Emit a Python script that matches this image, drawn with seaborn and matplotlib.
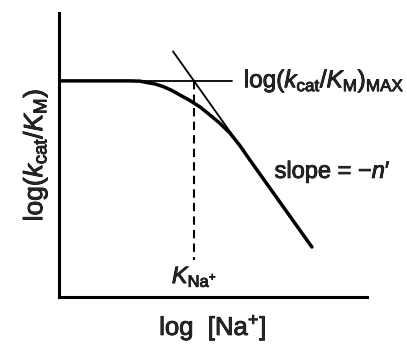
import matplotlib
matplotlib.use("Agg")
import matplotlib.pyplot as plt
import matplotlib.patheffects as pe
import seaborn as sns
import pandas as pd

# Curve (schematic units, 0-10 on both axes)
curve_x = [0.0, 2.31, 2.63, 2.86, 3.12, 3.38, 3.67, 3.93, 4.25, 4.58, 4.90, 5.23, 5.55, 5.88, 6.20, 8.21]
curve_y = [7.61, 7.61, 7.60, 7.55, 7.50, 7.41, 7.27, 7.11, 6.92, 6.69, 6.41, 6.11, 5.77, 5.32, 4.82, 1.76]

# Plateau line log(kcat/KM)MAX
plateau_x = [0.0, 5.62]
plateau_y = [7.61, 7.61]

# Limiting slope (tangent) line
tangent_x = [3.70, 8.21]
tangent_y = [8.65, 1.76]

# K_Na+ marker (dashed)
k_x = [4.38, 4.38]
k_y = [7.61, 1.30]

sns.set_style("white")
plt.rcParams['font.family'] = ['Liberation Sans', 'DejaVu Sans']
plt.rcParams['mathtext.fontset'] = 'custom'
plt.rcParams['mathtext.rm'] = 'Liberation Sans'
plt.rcParams['mathtext.it'] = 'Liberation Sans:italic'
plt.rcParams['mathtext.bf'] = 'Liberation Sans:bold'

fig = plt.figure(figsize=(4.07, 3.45), dpi=100)
ax = fig.add_axes([59/407, 48/345, 308/407, 284/345])

df_curve = pd.DataFrame({"x": curve_x, "y": curve_y})
sns.lineplot(data=df_curve, x="x", y="y", ax=ax, color="black", linewidth=2.5, sort=False, estimator=None)
sns.lineplot(x=plateau_x, y=plateau_y, ax=ax, color="black", linewidth=1.3, sort=False, estimator=None)
sns.lineplot(x=tangent_x, y=tangent_y, ax=ax, color="black", linewidth=1.3, sort=False, estimator=None)
ax.plot(k_x, k_y, color="black", linewidth=1.5, linestyle=(0, (4, 2.5)))

ax.set_xlim(0, 10)
ax.set_ylim(0, 10)
ax.set_xticks([])
ax.set_yticks([])
sns.despine(ax=ax)
for s in ["left", "bottom"]:
    ax.spines[s].set_linewidth(2.2)
    ax.spines[s].set_color("black")

thick = [pe.withStroke(linewidth=0.6, foreground="black")]

xl = ax.set_xlabel(r"log  [Na$^{+}$]", fontsize=18.5, labelpad=11)
yl = ax.set_ylabel(r"log($\mathit{k}_{\rm cat}$/$\mathit{K}_{\rm M}$)", fontsize=19, labelpad=7)
xl.set_path_effects(thick)
yl.set_path_effects(thick)

t1 = ax.text(6.0, 7.61, r"log($\mathit{k}_{\rm cat}$/$\mathit{K}_{\rm M}$)$_{\rm MAX}$",
             fontsize=17.5, va="center", ha="left")
t2 = ax.text(7.0, 4.4, r"slope = $-\mathit{n}$′", fontsize=17, va="center", ha="left")
t3 = ax.text(4.4, 0.72, r"$\mathit{K}_{\rm Na^{+}}$", fontsize=17, va="center", ha="center")
for t in (t1, t2, t3):
    t.set_path_effects(thick)

fig.savefig("out.png", dpi=100)
